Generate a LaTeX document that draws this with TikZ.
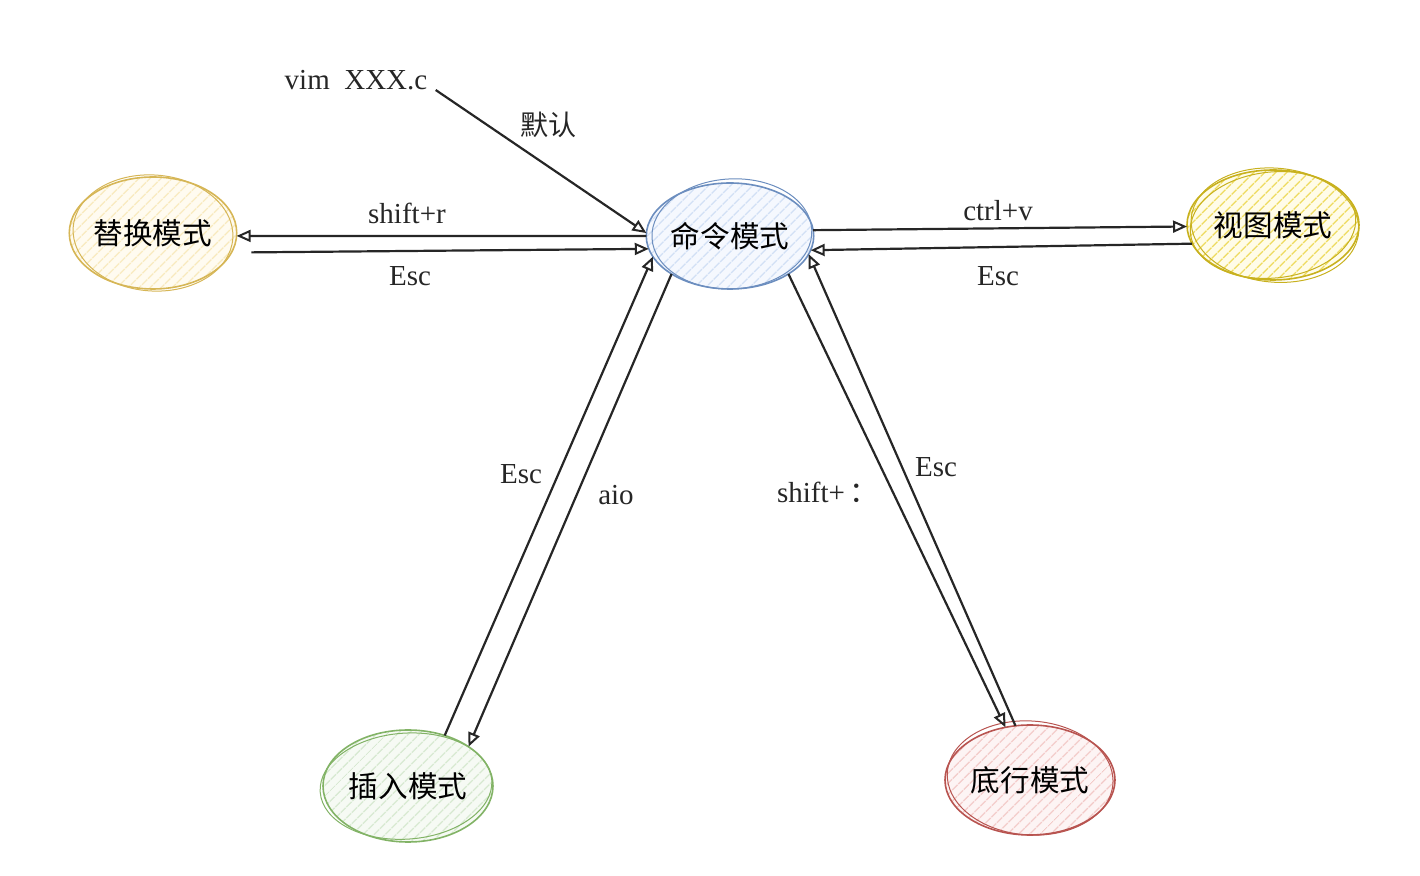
\documentclass[tikz,border=0pt]{standalone}
\usepackage{fontspec}
\setmainfont{Liberation Serif}
\newfontfamily\cjk{Noto Sans CJK SC}
\usetikzlibrary{shapes.geometric,arrows.meta,patterns.meta}
\definecolor{rdraw}{HTML}{D6B656}\definecolor{rfill}{HTML}{FFFBF0}\definecolor{rhatch}{HTML}{F8E8B8}
\definecolor{cdraw}{HTML}{6C8EBF}\definecolor{cfill}{HTML}{F5F8FE}\definecolor{chatch}{HTML}{D2E0F5}
\definecolor{vdraw}{HTML}{C8B11E}\definecolor{vfill}{HTML}{FFFCE8}\definecolor{vhatch}{HTML}{EEDB60}
\definecolor{idraw}{HTML}{82B366}\definecolor{ifill}{HTML}{F6FAF4}\definecolor{ihatch}{HTML}{D3E7CC}
\definecolor{bdraw}{HTML}{B85450}\definecolor{bfill}{HTML}{FDF4F4}\definecolor{bhatch}{HTML}{F2C6C4}
\tikzset{
  mode/.style n args={3}{ellipse, inner sep=0pt, outer sep=0pt, draw=#1, line width=0.8pt,
    preaction={fill=#2},
    pattern={Lines[angle=45,distance=4pt,line width=0.7pt]}, pattern color=#3,
    font=\cjk\fontsize{14.8pt}{16pt}\selectfont},
  sketch/.style={line width=0.5pt},
  arr/.style={line width=1.1pt, draw=black!85, -{Triangle[open,length=7pt,width=6pt,line width=1pt]}},
  lbl/.style={font=\fontsize{14.5pt}{16pt}\selectfont, inner sep=0pt, text=black!85},
}
\begin{document}
\begin{tikzpicture}[x=0.5pt,y=-0.5pt]
\useasboundingbox (0,0) rectangle (1420,876);
% nodes
\node[mode={rdraw}{rfill}{rhatch}, minimum width=83pt, minimum height=56pt] (repl) at (153,233) {替换模式};
\node[mode={cdraw}{cfill}{chatch}, minimum width=82pt, minimum height=53pt] (cmd) at (730,236) {命令模式};
\node[mode={vdraw}{vfill}{vhatch}, minimum width=86pt, minimum height=55pt] (view) at (1273,225) {视图模式};
\node[mode={idraw}{ifill}{ihatch}, minimum width=85pt, minimum height=56pt] (ins) at (408,786) {插入模式};
\node[mode={bdraw}{bfill}{bhatch}, minimum width=85pt, minimum height=55pt] (bot) at (1030,780) {底行模式};
% sketch outlines
\draw[sketch, rdraw, rotate around={-4:(repl.center)}] (repl.center) ellipse [x radius=80, y radius=58];
\draw[sketch, cdraw, rotate around={3:(cmd.center)}] ([xshift=1pt,yshift=1pt]cmd.center) ellipse [x radius=80, y radius=55];
\draw[sketch, vdraw, rotate around={-5:(view.center)}] ([xshift=1pt]view.center) ellipse [x radius=84, y radius=57];
\draw[sketch, vdraw, rotate around={6:(view.center)}] (view.center) ellipse [x radius=83, y radius=53];
\draw[sketch, idraw, rotate around={4:(ins.center)}] ([xshift=-1pt]ins.center) ellipse [x radius=86, y radius=53];
\draw[sketch, bdraw, rotate around={-4:(bot.center)}] ([yshift=1pt]bot.center) ellipse [x radius=83, y radius=57];
% texts
\node[lbl] (vim) at (356,80) {vim\ \ XXX.c};
\node[lbl, font=\cjk\fontsize{14pt}{16pt}\selectfont] (def) at (548,125) {默认};
\node[lbl] (l1) at (407,213) {shift+r};
\node[lbl] (l2) at (410,276) {Esc};
\node[lbl] (l3) at (998,211) {ctrl+v};
\node[lbl] (l4) at (998,276) {Esc};
\node[lbl] (l5) at (521,474) {Esc};
\node[lbl] (l6) at (616,495) {aio};
\node[lbl] (l7) at (828,492) {shift+\,{\cjk ：}};
\node[lbl] (l8) at (936,467) {Esc};
% connectors
\coordinate (vs) at ([xshift=4pt,yshift=-5pt]vim.east);
\draw[arr] (vs) -- (cmd.178);
\draw[arr] (cmd.180) -- (repl.-2);
\draw[arr, shorten <=10pt] (repl.-14) -- (cmd.189);
\draw[arr] (cmd.4) -- (view.181);
\draw[arr] (view.193) -- (cmd.-10);
\draw[arr] (ins.54) -- (cmd.195);
\draw[arr] (cmd.213) -- (ins.33);
\draw[arr] (cmd.-33) -- (bot.115);
\draw[arr] (bot.105) -- (cmd.-13);
\end{tikzpicture}
\end{document}
